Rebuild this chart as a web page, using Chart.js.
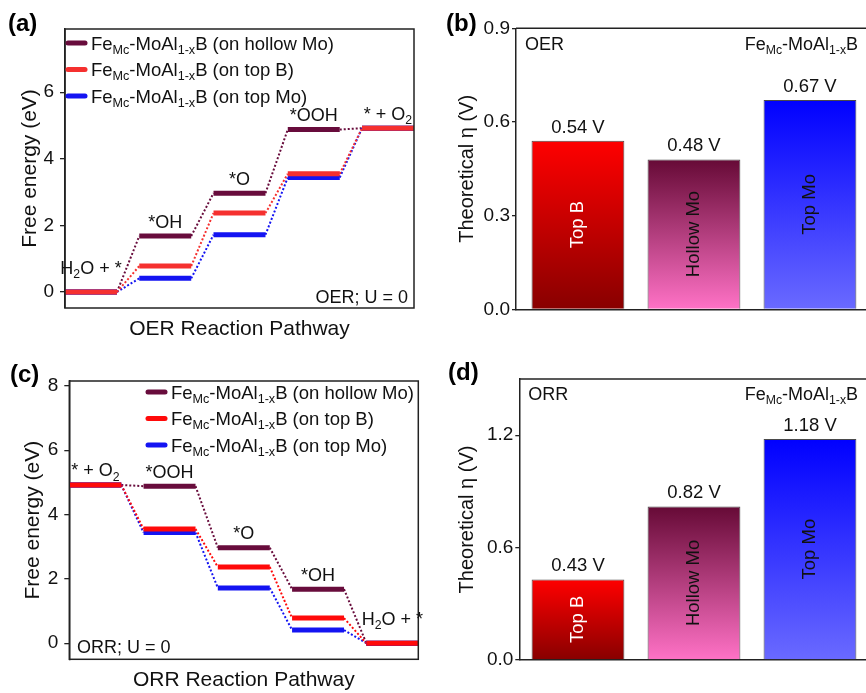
<!DOCTYPE html>
<html>
<head>
<meta charset="utf-8">
<script src="https://cdn.jsdelivr.net/npm/chart.js@4.4.1/dist/chart.umd.min.js"></script>
<style>
  body { margin: 0; background: #fff; width: 866px; height: 693px; position: relative; overflow: hidden; }
  canvas { position: absolute; }
</style>
</head>
<body>
<canvas id="panelA" width="430" height="345" style="left:0;top:0"></canvas>
<canvas id="panelB" width="436" height="345" style="left:430px;top:0"></canvas>
<canvas id="panelC" width="430" height="348" style="left:0;top:345px"></canvas>
<canvas id="panelD" width="436" height="348" style="left:430px;top:345px"></canvas>
<script>
// datos
const estadosOER = ['H_{2}O + *', '*OH', '*O', '*OOH', '* + O_{2}'];
const oerHollowMo = [0, 1.68, 2.97, 4.88, 4.92];
const oerTopB = [0, 0.78, 2.37, 3.55, 4.92];
const oerTopMo = [0, 0.41, 1.72, 3.44, 4.92];

const estadosORR = ['* + O_{2}', '*OOH', '*O', '*OH', 'H_{2}O + *'];
const orrHollowMo = [4.92, 4.88, 2.97, 1.68, 0];
const orrTopB = [4.92, 3.55, 2.37, 0.78, 0];
const orrTopMo = [4.92, 3.44, 1.72, 0.41, 0];

const sitios = [
  'Fe_{Mc}-MoAl_{1-x}B (on hollow Mo)',
  'Fe_{Mc}-MoAl_{1-x}B (on top B)',
  'Fe_{Mc}-MoAl_{1-x}B (on top Mo)'
];
const ticksOER = [0, 2, 4, 6];
const ticksORR = [0, 2, 4, 6, 8];

const barras = ['Top B', 'Hollow Mo', 'Top Mo'];
const etaOER = [0.54, 0.48, 0.67];
const etaORR = [0.43, 0.82, 1.18];
const ticksEtaOER = [0, 0.3, 0.6, 0.9];
const ticksEtaORR = [0, 0.6, 1.2];

const FUENTE = "'Liberation Sans', Arial, sans-serif";
const ANCHO = 0.7; // largo de cada nivel en unidades del eje x

// texto con subindices marcados como _{...}
function textoRico(ctx, s, x, y, size, align) {
  const partes = [];
  s.split(/(_\{[^}]*\})/).forEach(p => {
    if (!p) return;
    if (p.startsWith('_{')) partes.push({ t: p.slice(2, -1), sub: true });
    else partes.push({ t: p, sub: false });
  });
  let total = 0;
  partes.forEach(p => {
    ctx.font = `${p.sub ? size * 0.68 : size}px ${FUENTE}`;
    p.w = ctx.measureText(p.t).width;
    total += p.w;
  });
  let cx = align === 'right' ? x - total : align === 'center' ? x - total / 2 : x;
  ctx.textAlign = 'left';
  ctx.textBaseline = 'alphabetic';
  partes.forEach(p => {
    ctx.font = `${p.sub ? size * 0.68 : size}px ${FUENTE}`;
    ctx.fillText(p.t, cx, y + (p.sub ? size * 0.24 : 0));
    cx += p.w;
  });
}

function niveles(vals) {
  const pts = [];
  vals.forEach((v, i) => pts.push({ x: i, y: v }, { x: i + ANCHO, y: v }, { x: i + ANCHO, y: null }));
  return pts;
}

function conectores(vals) {
  const pts = [];
  for (let i = 0; i < vals.length - 1; i++) {
    pts.push({ x: i + ANCHO, y: vals[i] }, { x: i + 1, y: vals[i + 1] }, { x: i + 1, y: null });
  }
  return pts;
}

function etiqueta(ctx, txt, x, y) {
  ctx.save();
  ctx.fillStyle = '#000';
  ctx.font = `bold 24px ${FUENTE}`;
  ctx.textAlign = 'left';
  ctx.textBaseline = 'middle';
  ctx.fillText(txt, x, y);
  ctx.restore();
}

function diagramaPasos(id, cfg) {
  const series = [cfg.hollow, cfg.topB, cfg.topMo];
  const colores = ['#680c3c', cfg.rojo, '#1414f2'];
  const orden = [2, 0, 1];
  const datasets = [];
  series.forEach((vals, k) => {
    datasets.push({
      data: niveles(vals), borderColor: colores[k], borderWidth: 5,
      pointRadius: 0, spanGaps: false, order: orden[k]
    });
    datasets.push({
      data: conectores(vals), borderColor: colores[k], borderWidth: 2, borderDash: [2, 2],
      pointRadius: 0, spanGaps: false, order: 3 + orden[k]
    });
  });

  const extras = {
    id: 'extras' + id,
    afterDraw(chart) {
      const ctx = chart.ctx;
      const a = chart.chartArea;
      const sx = chart.scales.x, sy = chart.scales.y;
      ctx.save();
      ctx.strokeStyle = '#222';
      ctx.lineWidth = 1.5;
      ctx.strokeRect(a.left, a.top, a.right - a.left, a.bottom - a.top);

      // nombres de los estados
      ctx.fillStyle = '#111';
      cfg.estados.forEach((e, i) => {
        const tope = Math.max(cfg.hollow[i], cfg.topB[i], cfg.topMo[i]);
        const lift = e.startsWith('H') ? 25 : 15;
        textoRico(ctx, e, sx.getPixelForValue(i + ANCHO / 2), sy.getPixelForValue(tope) - lift + 6.5, 18, 'center');
      });

      // leyenda
      sitios.forEach((s, k) => {
        const y = cfg.leyenda.y + k * 26.5;
        ctx.strokeStyle = colores[k];
        ctx.lineWidth = 5;
        ctx.lineCap = 'round';
        ctx.beginPath();
        ctx.moveTo(cfg.leyenda.x + 2, y);
        ctx.lineTo(cfg.leyenda.x + 19, y);
        ctx.stroke();
        ctx.fillStyle = '#111';
        textoRico(ctx, s, cfg.leyenda.x + 25, y + 6.5, 18.5, 'left');
      });

      ctx.fillStyle = '#111';
      textoRico(ctx, cfg.nota.t, cfg.nota.x, cfg.nota.y + 6.5, 18, cfg.nota.align);
      ctx.restore();
      etiqueta(ctx, cfg.tag.t, cfg.tag.x, cfg.tag.y);
    }
  };

  return new Chart(document.getElementById(id), {
    type: 'line',
    data: { datasets },
    options: {
      responsive: false,
      animation: false,
      layout: { padding: cfg.padding },
      plugins: { legend: { display: false }, tooltip: { enabled: false } },
      scales: {
        x: {
          type: 'linear', min: 0, max: 4.7,
          ticks: { display: false },
          grid: { display: false },
          border: { display: false },
          title: { display: true, text: cfg.tituloX, font: { size: 21, family: FUENTE }, color: '#111', padding: 0 },
          afterFit: s => { s.height = cfg.altoX; }
        },
        y: {
          min: cfg.yMin, max: cfg.yMax,
          afterBuildTicks: s => { s.ticks = cfg.ticks.map(v => ({ value: v })); },
          afterFit: s => { s.width = cfg.anchoY; },
          grid: { drawOnChartArea: false, drawTicks: true, tickLength: 5, color: '#222', lineWidth: 1.3 },
          border: { display: true, color: '#222', width: 1.5 },
          ticks: { font: { size: 19, family: FUENTE }, color: '#111', padding: 6, callback: v => String(v) },
          title: { display: true, text: 'Free energy (eV)', font: { size: 21, family: FUENTE }, color: '#111', padding: 0 }
        }
      }
    },
    plugins: [extras]
  });
}

const paletaBarras = [
  ['#ff0000', '#880000'],
  ['#660a36', '#ff72c6'],
  ['#0000ff', '#6a6aff']
];
const colorTextoBarra = ['#ffffff', '#111111', '#111111'];

function gradiente(c) {
  const chart = c.chart;
  const sy = chart.scales.y;
  if (!chart.chartArea || !sy) return paletaBarras[c.dataIndex][0];
  const v = c.raw.y;
  const g = chart.ctx.createLinearGradient(0, sy.getPixelForValue(v), 0, sy.getPixelForValue(0));
  g.addColorStop(0, paletaBarras[c.dataIndex][0]);
  g.addColorStop(1, paletaBarras[c.dataIndex][1]);
  return g;
}

function graficoBarras(id, cfg) {
  const extras = {
    id: 'extras' + id,
    afterDraw(chart) {
      const ctx = chart.ctx;
      const a = chart.chartArea;
      const meta = chart.getDatasetMeta(0);
      ctx.save();
      ctx.strokeStyle = '#222';
      ctx.lineWidth = 1.5;
      ctx.beginPath();
      ctx.moveTo(a.left, a.top);
      ctx.lineTo(a.right, a.top);
      ctx.stroke();

      meta.data.forEach((bar, i) => {
        ctx.fillStyle = '#111';
        ctx.font = `18.5px ${FUENTE}`;
        ctx.textAlign = 'center';
        ctx.textBaseline = 'alphabetic';
        ctx.fillText(cfg.valores[i].toFixed(2) + ' V', bar.x, bar.y - 8);

        ctx.save();
        ctx.translate(bar.x, (bar.y + bar.base) / 2);
        ctx.rotate(-Math.PI / 2);
        ctx.fillStyle = colorTextoBarra[i];
        ctx.textBaseline = 'middle';
        ctx.fillText(barras[i], 0, 0);
        ctx.restore();
      });

      ctx.fillStyle = '#111';
      textoRico(ctx, cfg.modo, a.left + 9, cfg.yNota + 6.5, 18, 'left');
      textoRico(ctx, 'Fe_{Mc}-MoAl_{1-x}B', 428, cfg.yNota + 6.5, 18, 'right');
      ctx.restore();
      etiqueta(ctx, cfg.tag.t, cfg.tag.x, cfg.tag.y);
    }
  };

  return new Chart(document.getElementById(id), {
    type: 'bar',
    data: {
      datasets: [{
        data: cfg.valores.map((v, i) => ({ x: i, y: v })),
        backgroundColor: gradiente,
        borderColor: '#4a4a4a',
        borderWidth: 1,
        barPercentage: 0.8,
        categoryPercentage: 1
      }]
    },
    options: {
      responsive: false,
      animation: false,
      layout: { padding: cfg.padding },
      plugins: { legend: { display: false }, tooltip: { enabled: false } },
      scales: {
        x: {
          type: 'linear', min: cfg.xMin, max: 2.483, offset: false,
          afterBuildTicks: s => { s.ticks = barras.map((b, i) => ({ value: i })); },
          ticks: { display: false },
          grid: { display: false, offset: false },
          border: { display: true, color: '#222', width: 1.5 },
          afterFit: s => { s.height = cfg.altoX; }
        },
        y: {
          min: 0, max: cfg.yMax,
          afterBuildTicks: s => { s.ticks = cfg.ticks.map(v => ({ value: v })); },
          afterFit: s => { s.width = cfg.anchoY; },
          grid: { drawOnChartArea: false, drawTicks: true, tickLength: 4, color: '#222', lineWidth: 1.3 },
          border: { display: true, color: '#222', width: 1.5 },
          ticks: { font: { size: 19, family: FUENTE }, color: '#111', padding: 2, callback: v => v.toFixed(1) },
          title: { display: true, text: 'Theoretical η (V)', font: { size: 20, family: FUENTE }, color: '#111', padding: 0 }
        }
      }
    },
    plugins: [extras]
  });
}

diagramaPasos('panelA', {
  hollow: oerHollowMo, topB: oerTopB, topMo: oerTopMo, estados: estadosOER,
  rojo: '#f5302f', yMin: -0.48, yMax: 7.9, ticks: ticksOER,
  tituloX: 'OER Reaction Pathway',
  padding: { left: 17.4, top: 29, right: 16, bottom: 3.4 }, anchoY: 47.6, altoX: 33.6,
  leyenda: { x: 66, y: 43 },
  nota: { t: 'OER; U = 0', x: 408, y: 296, align: 'right' },
  tag: { t: '(a)', x: 8, y: 24 }
});

graficoBarras('panelB', {
  valores: etaOER, modo: 'OER', yMax: 0.9, ticks: ticksEtaOER, xMin: -0.534,
  padding: { left: 25, top: 28.3, right: 0, bottom: 0 }, anchoY: 61, altoX: 35.7,
  yNota: 43, tag: { t: '(b)', x: 16, y: 24 }
});

diagramaPasos('panelC', {
  hollow: orrHollowMo, topB: orrTopB, topMo: orrTopMo, estados: estadosORR,
  rojo: '#ff0a0a', yMin: -0.5, yMax: 8.15, ticks: ticksORR,
  tituloX: 'ORR Reaction Pathway',
  padding: { left: 20.9, top: 36, right: 11.7, bottom: 0.4 }, anchoY: 48.4, altoX: 33.3,
  leyenda: { x: 146, y: 47 },
  nota: { t: 'ORR; U = 0', x: 77, y: 301, align: 'left' },
  tag: { t: '(c)', x: 10, y: 30 }
});

graficoBarras('panelD', {
  valores: etaORR, modo: 'ORR', yMax: 1.5, ticks: ticksEtaORR, xMin: -0.506,
  padding: { left: 25.5, top: 34, right: 0, bottom: 0 }, anchoY: 63.8, altoX: 33,
  yNota: 48, tag: { t: '(d)', x: 18, y: 28 }
});
</script>
</body>
</html>
